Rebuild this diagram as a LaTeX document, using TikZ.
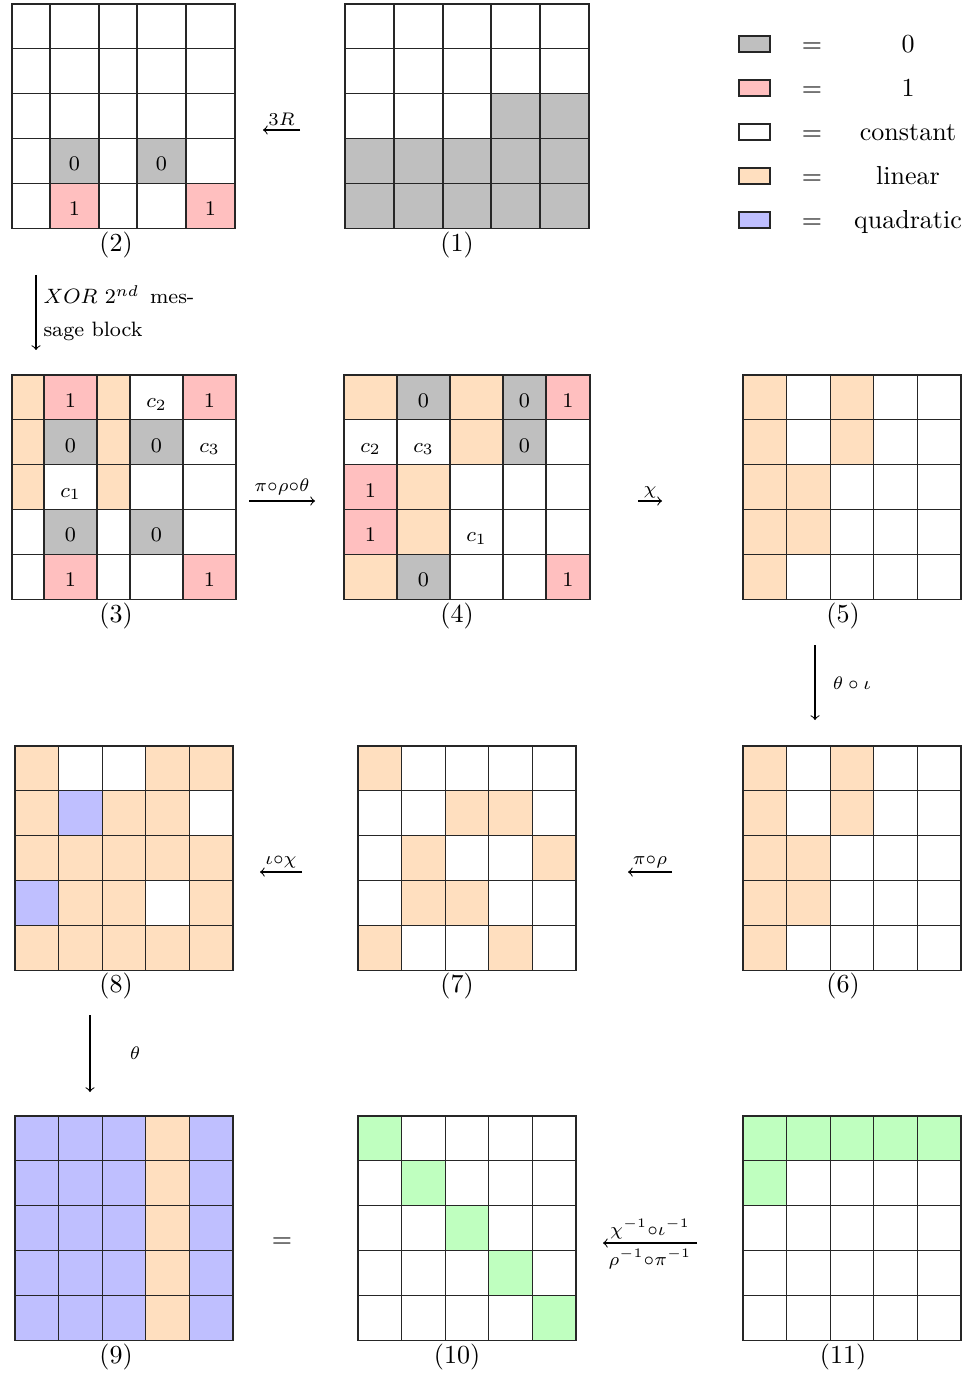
\documentclass[tikz,border=0pt]{standalone}
\usepackage{amsmath}
\definecolor{Z}{HTML}{BFBFBF}
\definecolor{P}{HTML}{FFBFBF}
\definecolor{O}{HTML}{FFDFBF}
\definecolor{Q}{HTML}{BFBFFF}
\definecolor{G}{HTML}{BFFFBF}
\definecolor{W}{HTML}{FFFFFF}
\tikzset{
  cellbox/.style={draw=black!85, line width=0.4pt, inner sep=0pt, outer sep=0pt, anchor=center},
  celltext/.style={font=\footnotesize, inner sep=0pt, text height=7.5pt, text depth=0pt},
  legbox/.style={draw=black!85, line width=0.4pt, inner sep=0pt, minimum width=31*0.3846pt, minimum height=16*0.3846pt},
  legtext/.style={text height=1.6ex, text depth=0.4ex, inner sep=0pt},
  arr/.style={->, line width=0.4pt},
  lab/.style={inner sep=1pt},
}
\newcommand\setcols[2]{\foreach \vv [count=\ci] in {#2} {\expandafter\xdef\csname col#1\ci\endcsname{\vv}}}
\newcommand\setrows[2]{\foreach \kk in {1,...,6} {\pgfmathsetmacro\tmp{#2+44.9*(\kk-1)}\expandafter\xdef\csname row#1\kk\endcsname{\tmp}}}
\newcommand\mkcell[4]{%
  \pgfmathtruncatemacro\cnext{#3+1}%
  \pgfmathtruncatemacro\rnext{#2+1}%
  \edef\xa{\csname col#1#3\endcsname}\edef\xb{\csname col#1\cnext\endcsname}%
  \edef\ya{\csname row#1#2\endcsname}\edef\yb{\csname row#1\rnext\endcsname}%
  \pgfmathsetlengthmacro\cw{(\xb-\xa)*0.3846pt}%
  \pgfmathsetlengthmacro\ch{(\yb-\ya)*0.3846pt}%
  \node[cellbox, fill=#4, minimum width=\cw, minimum height=\ch] (g#1-#2-#3) at ({(\xa+\xb)/2},{(\ya+\yb)/2}) {};}
\newcommand\mkrow[3]{\foreach \cc [count=\cn] in {#3} {\mkcell{#1}{#2}{\cn}{\cc}}}
\begin{document}
\begin{tikzpicture}[x=0.3846pt,y=-0.3846pt]
\useasboundingbox (0,0) rectangle (973,1374);
% column and row boundaries
\setcols{A}{345,394,443,491,540,589}\setrows{A}{4}
\setcols{B}{12,50,99,137,186,235}\setrows{B}{4}
\setcols{C}{12,44,97,130,183,236}\setrows{C}{375}
\setcols{D}{344,397,450,503,546,590}\setrows{D}{375}
\setcols{E}{743,786.6,830.2,873.8,917.4,961}\setrows{E}{375}
\setcols{F}{743,786.6,830.2,873.8,917.4,961}\setrows{F}{746}
\setcols{G}{358,401.6,445.2,488.8,532.4,576}\setrows{G}{746}
\setcols{H}{15,58.6,102.2,145.8,189.4,233}\setrows{H}{746}
\setcols{I}{15,58.6,102.2,145.8,189.4,233}\setrows{I}{1116}
\setcols{J}{358,401.6,445.2,488.8,532.4,576}\setrows{J}{1116}
\setcols{K}{743,786.6,830.2,873.8,917.4,961}\setrows{K}{1116}
% (1)
\mkrow{A}{1}{W,W,W,W,W}\mkrow{A}{2}{W,W,W,W,W}\mkrow{A}{3}{W,W,W,Z,Z}\mkrow{A}{4}{Z,Z,Z,Z,Z}\mkrow{A}{5}{Z,Z,Z,Z,Z}
% (2)
\mkrow{B}{1}{W,W,W,W,W}\mkrow{B}{2}{W,W,W,W,W}\mkrow{B}{3}{W,W,W,W,W}\mkrow{B}{4}{W,Z,W,Z,W}\mkrow{B}{5}{W,P,W,W,P}
% (3)
\mkrow{C}{1}{O,P,O,W,P}\mkrow{C}{2}{O,Z,O,Z,W}\mkrow{C}{3}{O,W,O,W,W}\mkrow{C}{4}{W,Z,W,Z,W}\mkrow{C}{5}{W,P,W,W,P}
% (4)
\mkrow{D}{1}{O,Z,O,Z,P}\mkrow{D}{2}{W,W,O,Z,W}\mkrow{D}{3}{P,O,W,W,W}\mkrow{D}{4}{P,O,W,W,W}\mkrow{D}{5}{O,Z,W,W,P}
% (5)
\mkrow{E}{1}{O,W,O,W,W}\mkrow{E}{2}{O,W,O,W,W}\mkrow{E}{3}{O,O,W,W,W}\mkrow{E}{4}{O,O,W,W,W}\mkrow{E}{5}{O,W,W,W,W}
% (6)
\mkrow{F}{1}{O,W,O,W,W}\mkrow{F}{2}{O,W,O,W,W}\mkrow{F}{3}{O,O,W,W,W}\mkrow{F}{4}{O,O,W,W,W}\mkrow{F}{5}{O,W,W,W,W}
% (7)
\mkrow{G}{1}{O,W,W,W,W}\mkrow{G}{2}{W,W,O,O,W}\mkrow{G}{3}{W,O,W,W,O}\mkrow{G}{4}{W,O,O,W,W}\mkrow{G}{5}{O,W,W,O,W}
% (8)
\mkrow{H}{1}{O,W,W,O,O}\mkrow{H}{2}{O,Q,O,O,W}\mkrow{H}{3}{O,O,O,O,O}\mkrow{H}{4}{Q,O,O,W,O}\mkrow{H}{5}{O,O,O,O,O}
% (9)
\mkrow{I}{1}{Q,Q,Q,O,Q}\mkrow{I}{2}{Q,Q,Q,O,Q}\mkrow{I}{3}{Q,Q,Q,O,Q}\mkrow{I}{4}{Q,Q,Q,O,Q}\mkrow{I}{5}{Q,Q,Q,O,Q}
% (10)
\mkrow{J}{1}{G,W,W,W,W}\mkrow{J}{2}{W,G,W,W,W}\mkrow{J}{3}{W,W,G,W,W}\mkrow{J}{4}{W,W,W,G,W}\mkrow{J}{5}{W,W,W,W,G}
% (11)
\mkrow{K}{1}{G,G,G,G,G}\mkrow{K}{2}{G,W,W,W,W}\mkrow{K}{3}{W,W,W,W,W}\mkrow{K}{4}{W,W,W,W,W}\mkrow{K}{5}{W,W,W,W,W}
% cell texts
\foreach \cid/\t in {B-4-2/0,B-4-4/0,B-5-2/1,B-5-5/1,
  C-1-2/1,C-1-4/$c_2$,C-1-5/1,C-2-2/0,C-2-4/0,C-2-5/$c_3$,C-3-2/$c_1$,C-4-2/0,C-4-4/0,C-5-2/1,C-5-5/1,
  D-1-2/0,D-1-4/0,D-1-5/1,D-2-1/$c_2$,D-2-2/$c_3$,D-2-4/0,D-3-1/1,D-4-1/1,D-4-3/$c_1$,D-5-2/0,D-5-5/1}
  {\node[celltext] (t\cid) at (g\cid) {\t};}
% grid labels
\node[lab] (l1) at (457,245) {(1)};
\node[lab] (l2) at (116,245) {(2)};
\node[lab] (l3) at (116,616) {(3)};
\node[lab] (l4) at (457,616) {(4)};
\node[lab] (l5) at (843,616) {(5)};
\node[lab] (l6) at (843,986) {(6)};
\node[lab] (l7) at (457,986) {(7)};
\node[lab] (l8) at (116,986) {(8)};
\node[lab] (l9) at (116,1357) {(9)};
\node[lab] (l10) at (457,1357) {(10)};
\node[lab] (l11) at (843,1357) {(11)};
% legend
\foreach \y/\c/\t [count=\i] in {44/Z/0,88/P/1,132/W/constant,176/O/linear,220/Q/quadratic}{
  \node[legbox, fill=\c] (key\i) at (754.5,\y) {};
  \node[legtext] (eq\i) at (812,\y+2) {$=$};
  \node[legtext] (txt\i) at (908,\y+2) {\t};
}
% arrows
\coordinate (a1s) at (300,130); \coordinate (a1e) at (263,130);
\draw[arr] (a1s) -- node[above, inner sep=1.5pt, font=\scriptsize]{$3R$} (a1e);
\coordinate (a2s) at (36,275); \coordinate (a2e) at (36,350);
\draw[arr] (a2s) -- (a2e);
\node[anchor=north west, align=left, font=\footnotesize, inner sep=0pt] (xortxt) at (43,285) {$XOR$ $2^{nd}$ \,mes-\\[3pt]sage block};
\coordinate (a3s) at (249,501); \coordinate (a3e) at (315,501);
\draw[arr] (a3s) -- node[above, inner sep=2pt, font=\scriptsize]{$\pi{\circ}\rho{\circ}\theta$} (a3e);
\coordinate (a4s) at (638,501); \coordinate (a4e) at (662,501);
\draw[arr] (a4s) -- node[above, inner sep=1pt, font=\scriptsize]{$\chi$} (a4e);
\coordinate (a5s) at (815,645); \coordinate (a5e) at (815,720);
\draw[arr] (a5s) -- (a5e);
\node[font=\scriptsize] (a5l) at (852,683) {$\theta\circ\iota$};
\coordinate (a6s) at (672,872); \coordinate (a6e) at (628,872);
\draw[arr] (a6s) -- node[above, inner sep=1.5pt, font=\scriptsize]{$\pi{\circ}\rho$} (a6e);
\coordinate (a7s) at (302,872); \coordinate (a7e) at (260,872);
\draw[arr] (a7s) -- node[above, inner sep=1.5pt, font=\scriptsize]{$\iota{\circ}\chi$} (a7e);
\coordinate (a8s) at (90,1015); \coordinate (a8e) at (90,1092);
\draw[arr] (a8s) -- (a8e);
\node[font=\scriptsize] (a8l) at (135,1053) {$\theta$};
\node (eqsign) at (282,1243) {$=$};
\coordinate (a9s) at (697,1243); \coordinate (a9e) at (603,1243);
\draw[arr] (a9s) -- node[above, inner sep=1.5pt, font=\scriptsize]{$\chi^{-1}{\circ}\iota^{-1}$} node[below, inner sep=2pt, font=\scriptsize]{$\rho^{-1}{\circ}\pi^{-1}$} (a9e);
\end{tikzpicture}
\end{document}
